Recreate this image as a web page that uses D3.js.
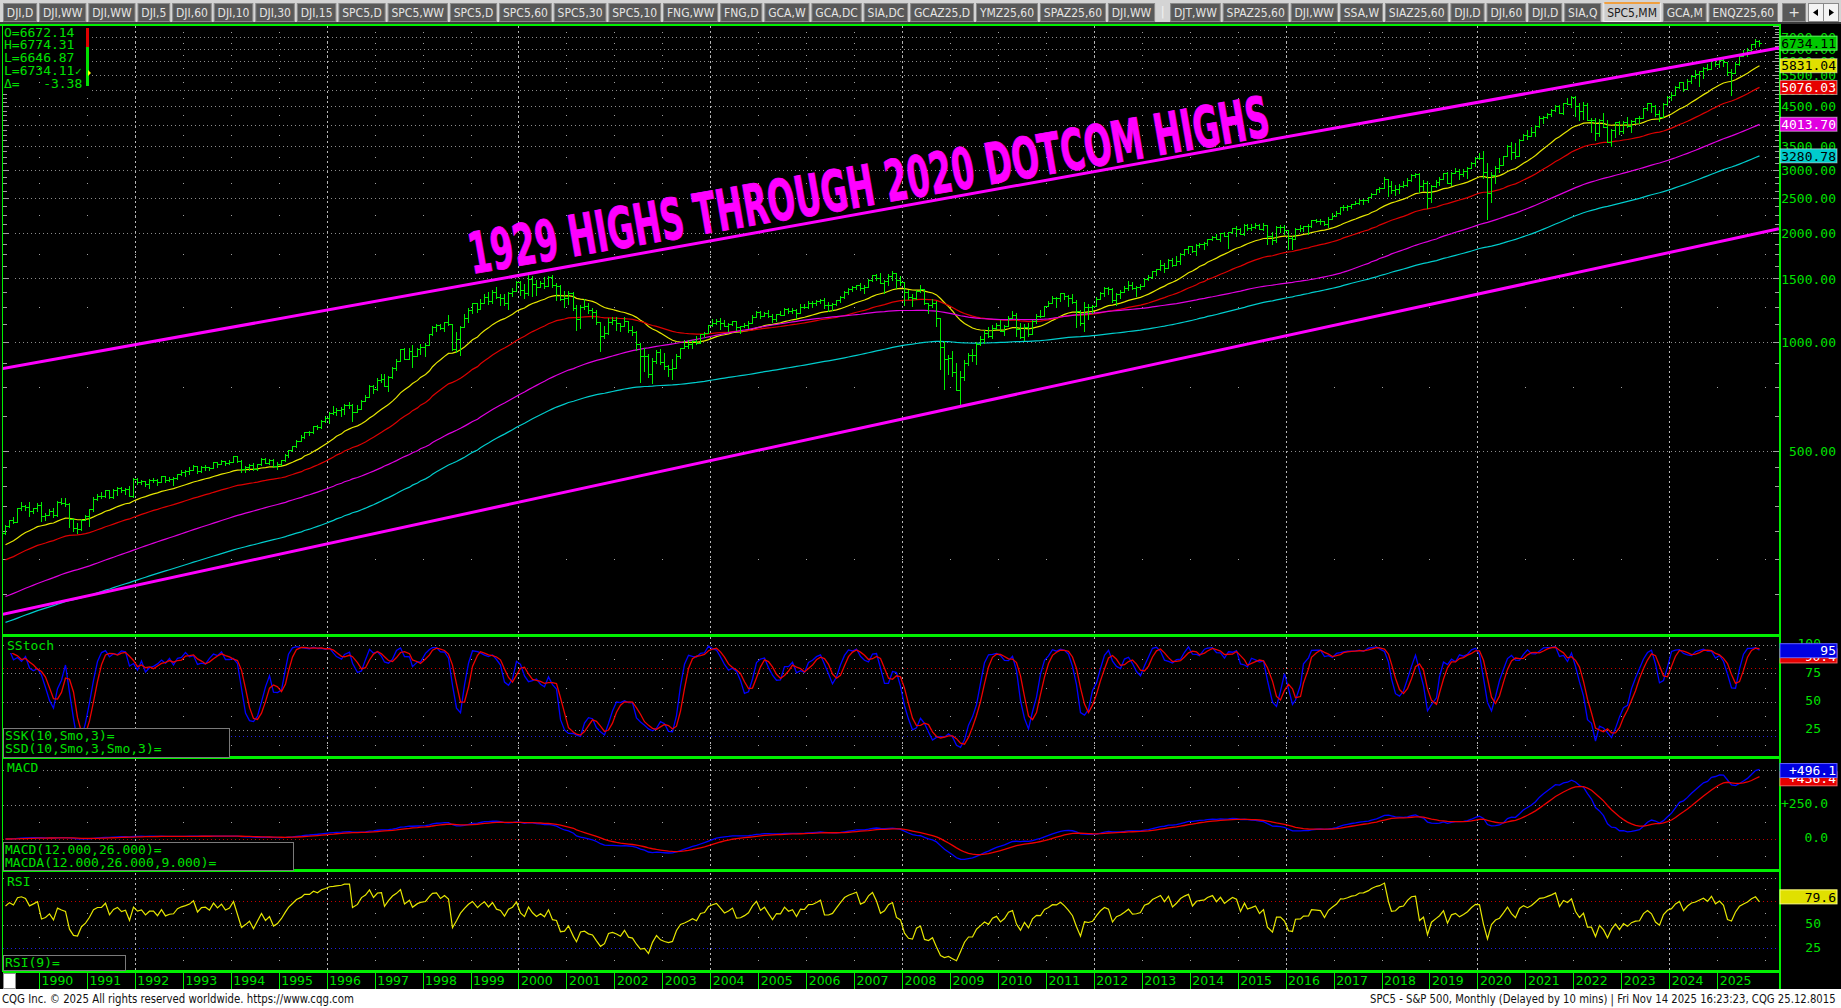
<!DOCTYPE html>
<html><head><meta charset="utf-8">
<script src="https://cdn.jsdelivr.net/npm/d3@7"></script>
<style>
html,body{margin:0;padding:0;background:#000;overflow:hidden}
svg{display:block}
text{white-space:pre}
</style></head><body>
<svg id="c" width="1841" height="1008"></svg>
<script>
// ---------------- DATA (S&P 500 monthly, Apr 1989 .. Nov 2025) ----------------
const firstMonth = "1989-04";
const opens = [
295,310,321,318,346,351,349,340,346,
353,329,332,340,331,361,358,356,323,306,304,322,
330,344,367,375,375,390,371,388,395,388,392,375,
417,409,413,404,415,415,408,424,414,418,419,431,
436,439,443,452,440,450,451,448,464,459,468,462,
466,482,467,446,451,457,444,458,475,463,472,454,
459,470,487,501,515,533,545,562,562,584,582,605,
616,636,640,646,654,669,671,640,652,687,705,757,
741,786,791,757,801,848,885,954,899,947,915,955,
970,980,1049,1102,1112,1091,1134,1121,957,1017,1099,1164,
1229,1280,1238,1286,1335,1302,1373,1329,1320,1283,1363,1389,
1469,1394,1366,1499,1452,1421,1455,1431,1518,1437,1429,1315,
1320,1366,1240,1160,1249,1256,1224,1211,1134,1041,1060,1139,
1148,1130,1107,1147,1077,1067,990,912,916,815,886,936,
880,856,841,848,917,964,975,990,1008,996,1051,1058,
1112,1131,1145,1126,1107,1121,1141,1102,1104,1115,1130,1174,
1212,1181,1204,1181,1157,1192,1191,1234,1220,1229,1207,1249,
1248,1280,1281,1295,1311,1270,1270,1277,1304,1336,1378,1401,
1418,1438,1407,1421,1482,1531,1503,1455,1474,1527,1549,1481,
1468,1379,1331,1323,1386,1400,1280,1267,1283,1166,969,896,
903,826,735,798,873,919,919,987,1021,1057,1036,1096,
1115,1074,1104,1169,1187,1089,1031,1102,1049,1141,1183,1181,
1258,1286,1327,1326,1364,1345,1321,1292,1219,1131,1253,1247,
1258,1312,1366,1408,1398,1310,1362,1379,1407,1441,1412,1416,
1426,1498,1515,1569,1598,1631,1606,1686,1633,1682,1757,1806,
1848,1783,1859,1872,1884,1924,1960,1931,2003,1972,2018,2068,
2059,1995,2105,2068,2086,2107,2063,2104,1972,1920,2079,2080,
2044,1940,1932,2060,2065,2097,2099,2174,2171,2168,2126,2199,
2239,2279,2364,2363,2384,2412,2423,2470,2472,2519,2575,2648,
2674,2824,2714,2641,2648,2705,2718,2816,2902,2914,2712,2760,
2507,2704,2784,2834,2946,2752,2942,2980,2926,2977,3038,3141,
3231,3226,2954,2585,2912,3044,3100,3271,3500,3363,3270,3622,
3756,3714,3811,3973,4181,4204,4298,4395,4523,4308,4605,4567,
4766,4516,4374,4530,4132,4132,3785,4130,3955,3586,3872,4080,
3840,4077,3970,4109,4169,4180,4450,4589,4508,4288,4194,4568,
4770,4846,5096,5254,5036,5278,5460,5522,5648,5762,5705,6032,
5882,6041,5955,5612,5569,5912,6205,6339,6460,6688,6840];
const highs = [
311,322,328,346,360,354,360,347,359,
361,336,345,347,362,369,370,357,325,315,323,331,
344,371,378,385,390,390,391,397,396,395,398,419,
421,415,413,417,419,416,425,425,422,422,432,441,
442,450,456,452,453,455,451,464,464,470,469,471,
483,482,471,453,458,462,459,477,476,474,474,466,
472,489,503,515,534,551,564,565,586,589,608,622,
638,664,656,660,673,680,673,668,690,714,758,762,
794,817,815,805,851,898,957,961,960,983,960,986,
992,1051,1106,1124,1122,1139,1190,1121,1066,1104,1193,1244,
1280,1284,1317,1362,1376,1390,1420,1357,1361,1373,1412,1473,
1478,1445,1553,1528,1481,1475,1518,1525,1530,1454,1438,1389,
1383,1376,1268,1269,1316,1286,1239,1226,1134,1111,1163,1173,
1176,1131,1173,1147,1107,1070,994,965,924,901,952,954,
935,864,895,924,965,1015,1016,1011,1040,1054,1063,1112,
1155,1159,1163,1150,1128,1146,1141,1109,1131,1142,1188,1217,
1217,1212,1229,1192,1199,1219,1246,1245,1243,1233,1271,1276,
1295,1297,1310,1318,1326,1290,1281,1307,1340,1389,1407,1431,
1441,1461,1438,1498,1535,1541,1556,1488,1539,1576,1545,1524,
1471,1396,1359,1396,1440,1404,1285,1313,1303,1167,1007,918,
944,875,832,889,930,956,997,1039,1081,1102,1113,1130,
1151,1113,1181,1220,1206,1132,1120,1130,1150,1196,1227,1262,
1303,1344,1333,1367,1371,1346,1356,1307,1230,1293,1277,1270,
1333,1378,1419,1422,1415,1364,1392,1427,1475,1466,1434,1448,
1504,1530,1570,1598,1687,1654,1698,1709,1730,1765,1814,1849,
1851,1868,1884,1897,1925,1968,1991,2005,2019,2019,2075,2094,
2072,2119,2117,2126,2135,2130,2132,2113,2021,2094,2116,2104,
2044,1962,2073,2111,2103,2120,2178,2194,2188,2170,2214,2278,
2301,2371,2401,2398,2418,2454,2484,2491,2520,2582,2658,2695,
2873,2835,2801,2717,2742,2791,2848,2917,2941,2940,2815,2800,
2716,2813,2860,2949,2954,2965,3028,3014,3022,3050,3157,3248,
3337,3394,3136,2955,3068,3233,3280,3514,3588,3550,3646,3760,
3870,3950,3982,4219,4238,4302,4430,4537,4546,4608,4743,4809,
4818,4595,4637,4594,4169,4178,4140,4325,4120,3905,4080,4101,
4095,4195,4111,4170,4232,4458,4608,4584,4541,4393,4587,4793,
4932,5112,5265,5264,5342,5505,5669,5651,5768,5878,6045,6100,
6129,6147,5986,5695,5969,6216,6427,6509,6699,6920,6870];
const lows = [
294,307,314,317,343,342,329,335,340,
320,322,331,327,330,355,351,307,300,295,301,322,
309,340,364,370,371,369,370,377,383,380,374,371,
405,405,400,394,410,401,408,410,413,402,417,428,
426,431,441,433,436,442,442,447,450,458,455,460,
465,464,436,435,442,442,443,457,461,460,449,445,
457,469,481,500,511,530,543,553,560,573,579,601,
597,633,627,624,632,658,605,639,650,685,703,723,
737,773,756,733,793,836,884,897,896,855,912,925,
912,980,1046,1076,1084,1074,1118,950,939,923,1098,1137,
1205,1212,1233,1282,1276,1281,1328,1269,1263,1233,1343,1387,
1350,1325,1346,1339,1348,1418,1413,1429,1419,1305,1311,1254,
1274,1228,1081,1091,1232,1203,1165,1124,945,1026,1054,1124,
1081,1074,1106,1063,1048,952,776,833,800,768,872,870,
840,806,789,847,902,963,962,960,990,995,1031,1061,
1105,1124,1087,1107,1076,1113,1078,1060,1099,1090,1127,1173,
1163,1180,1176,1137,1146,1188,1191,1201,1205,1169,1201,1246,
1245,1253,1268,1280,1245,1219,1224,1265,1290,1327,1360,1385,
1403,1396,1364,1416,1476,1484,1454,1370,1439,1489,1407,1436,
1270,1316,1256,1312,1373,1272,1200,1248,1106,840,741,815,
805,734,667,783,866,888,869,979,992,1030,1029,1086,
1071,1045,1105,1170,1040,1029,1011,1040,1049,1131,1174,1187,
1257,1289,1249,1302,1312,1258,1283,1101,1114,1075,1158,1203,
1258,1312,1341,1358,1292,1267,1325,1378,1397,1403,1343,1398,
1426,1485,1501,1536,1581,1560,1605,1627,1633,1646,1746,1767,
1771,1737,1834,1815,1859,1915,1930,1905,1964,1821,2001,1972,
1988,1980,2039,2048,2067,2056,2044,1867,1872,1893,2019,1993,
1812,1810,1937,2034,2026,1992,2088,2148,2120,2115,2084,2187,
2245,2267,2322,2329,2353,2405,2407,2417,2446,2520,2566,2605,
2682,2533,2586,2553,2594,2691,2698,2802,2864,2604,2631,2347,
2444,2681,2722,2848,2750,2729,2952,2822,2892,2856,3050,3070,
3214,2855,2192,2447,2767,2966,3101,3284,3210,3234,3279,3633,
3663,3725,3723,3956,4056,4164,4233,4368,4306,4279,4560,4495,
4223,4115,4157,4125,3811,3637,3721,3954,3584,3492,3699,3764,
3794,3943,3809,4049,4048,4167,4385,4335,4238,4104,4197,4546,
4682,4845,5056,4954,5011,5234,5390,5120,5403,5674,5696,5832,
5773,5837,5505,4835,5578,5861,6201,6212,6360,6551,6631];
const closes = [
310,321,318,346,351,349,340,346,353,
329,332,340,331,361,358,356,323,306,304,322,330,
344,367,375,375,390,371,388,395,388,392,375,417,
409,413,404,415,415,408,424,414,418,419,431,436,
439,443,452,440,450,451,448,464,459,468,462,466,
482,467,446,451,457,444,458,475,463,472,454,459,
470,487,501,515,533,545,562,562,584,582,605,616,
636,640,646,654,669,671,640,652,687,705,757,741,
786,791,757,801,848,885,954,899,947,915,955,970,
980,1049,1102,1112,1091,1134,1121,957,1017,1099,1164,1229,
1280,1238,1286,1335,1302,1373,1329,1320,1283,1363,1389,1469,
1394,1366,1499,1452,1421,1455,1431,1518,1437,1429,1315,1320,
1366,1240,1160,1249,1256,1224,1211,1134,1041,1060,1139,1148,
1130,1107,1147,1077,1067,990,912,916,815,886,936,880,
856,841,848,917,964,975,990,1008,996,1051,1058,1112,
1131,1145,1126,1107,1121,1141,1102,1104,1115,1130,1174,1212,
1181,1204,1181,1157,1192,1191,1234,1220,1229,1207,1249,1248,
1280,1281,1295,1311,1270,1270,1277,1304,1336,1378,1401,1418,
1438,1407,1421,1482,1531,1503,1455,1474,1527,1549,1481,1468,
1379,1331,1323,1386,1400,1280,1267,1283,1166,969,896,903,
826,735,798,873,919,919,987,1021,1057,1036,1096,1115,
1074,1104,1169,1187,1089,1031,1102,1049,1141,1183,1181,1258,
1286,1327,1326,1364,1345,1321,1292,1219,1131,1253,1247,1258,
1312,1366,1408,1398,1310,1362,1379,1407,1441,1412,1416,1426,
1498,1515,1569,1598,1631,1606,1686,1633,1682,1757,1806,1848,
1783,1859,1872,1884,1924,1960,1931,2003,1972,2018,2068,2059,
1995,2105,2068,2086,2107,2063,2104,1972,1920,2079,2080,2044,
1940,1932,2060,2065,2097,2099,2174,2171,2168,2126,2199,2239,
2279,2364,2363,2384,2412,2423,2470,2472,2519,2575,2648,2674,
2824,2714,2641,2648,2705,2718,2816,2902,2914,2712,2760,2507,
2704,2784,2834,2946,2752,2942,2980,2926,2977,3038,3141,3231,
3226,2954,2585,2912,3044,3100,3271,3500,3363,3270,3622,3756,
3714,3811,3973,4181,4204,4298,4395,4523,4308,4605,4567,4766,
4516,4374,4530,4132,4132,3785,4130,3955,3586,3872,4080,3840,
4077,3970,4109,4169,4180,4450,4589,4508,4288,4194,4568,4770,
4846,5096,5254,5036,5278,5460,5522,5648,5762,5705,6032,5882,
6041,5955,5612,5569,5912,6205,6339,6460,6688,6840,6734];

// moving averages: type, value at first bar and last label value
const maTypes = ["ema","ema","sma","ema"];
const maStart = [274, 249, 197, 167];
const maLast  = [5831.04, 5076.03, 4013.70, 3280.78];
const lastPrice = 6734.11;
const rsiStart = 70;
// channel lines: [date, value] anchors
const upperChannel = [["1989-04-01", 844], ["2026-04-15", 6530]];
const lowerChannel = [["1989-04-01", 176], ["2026-04-15", 2060]];
const titleText = "1929 HIGHS THROUGH 2020 DOTCOM HIGHS";
const headerLines = ["O=6672.14","H=6774.31","L=6646.87","L=6734.11","Δ=   -3.38"];
const priceLabels = [500,1000,1500,2000,2500,3000,3500,4000,4500,5000,5500,6000,6500,7000];
const stochLabels = [25,50,75,100];
const macdLabels = [0,250,500];
const rsiLabels = [25,50,75];
const stochLast = [95, 90.4];        // SSK, SSD
const macdLast = [496.1, 436.4];     // MACD, MACDA
const rsiLast = 79.6;
const years = d3.range(1990, 2026);
const tabs = ["DJI,D","DJI,WW","DJI,WW","DJI,5","DJI,60","DJI,10","DJI,30","DJI,15","SPC5,D","SPC5,WW","SPC5,D","SPC5,60","SPC5,30","SPC5,10","FNG,WW","FNG,D","GCA,W","GCA,DC","SIA,DC","GCAZ25,D","YMZ25,60","SPAZ25,60","DJI,WW","|","DJT,WW","SPAZ25,60","DJI,WW","SSA,W","SIAZ25,60","DJI,D","DJI,60","DJI,D","SIA,Q","SPC5,MM","GCA,M","ENQZ25,60"];
const activeTab = "SPC5,MM";
const footerLeft = "CQG Inc. © 2025 All rights reserved worldwide. https://www.cqg.com";
const footerRight = "SPC5 - S&P 500, Monthly (Delayed by 10 mins) | Fri Nov 14 2025 16:23:23, CQG 25.12.8015";

// ---------------- STYLE ----------------
const MONO = "'DejaVu Sans Mono','Liberation Mono',monospace";
const SANS = "'DejaVu Sans',sans-serif";
const COND = "'DejaVu Sans Condensed','Liberation Sans Narrow','DejaVu Sans',sans-serif";
const TXT = "#00e000", SEPC = "#00f000", BARC = "#00ee00";
const maColors = ["#e6e600","#dd0000","#e000e0","#00cccc"];
const maBox = [["#e0e000","#000"],["#e60000","#fff"],["#e000e0","#fff"],["#00cccc","#000"]];
const GRID = "#8c8c8c";

// ---------------- LAYOUT ----------------
const L = 3, R = 1779;
const mainP = {t:26, b:634}, stP = {t:637, b:757}, mdP = {t:759, b:870}, rsP = {t:873, b:970};

const parseM = d3.timeParse("%Y-%m"), parseD = d3.timeParse("%Y-%m-%d");
const start = parseM(firstMonth);
const n = closes.length;
const bars = d3.range(n).map(i => ({date: d3.timeMonth.offset(start, i), o: opens[i], h: highs[i], l: lows[i], c: closes[i]}));

const x = d3.scaleTime().domain([new Date(1990,0,1), new Date(2025,0,1)]).range([39, 1717.25]);
const bx = d => Math.round(x(d3.timeDay.offset(d, 15))) + 0.5;
const yM = d3.scaleLog().domain([500, 7000]).range([450.6, 37.1]);
const yS = d3.scaleLinear().domain([0, 100]).range([758.75, 645]);
const yD = d3.scaleLinear().domain([0, 500]).range([839, 770]);
const yR = d3.scaleLinear().domain([25, 75]).range([948.4, 901.2]);

// ---------------- INDICATORS (computed from price) ----------------
function ema(vals, period, seed) { const a = 2/(period+1); let e = seed; return vals.map((v,i) => (i === 0 ? e : (e = e + a*(v - e)))); }
// simple MA; the months before the first bar are implied by the MA value read at the first bar
function smaSeeded(vals, P, seed) {
  let lo = 0.3, hi = 1.0;
  for (let it = 0; it < 60; it++) { const q = (lo+hi)/2; const f = (1 - Math.pow(q, P))/(1 - q); if (vals[0]*f/P > seed) hi = q; else lo = q; }
  const q = (lo+hi)/2;
  return vals.map((v,i) => { let s = 0; for (let k = i-P+1; k <= i; k++) s += k >= 0 ? vals[k] : vals[0]*Math.pow(q, -k); return s/P; });
}
function fitEma(seed, target) { let best = 2, bd = Infinity; for (let p = 2; p <= 400; p += 0.5) { const s = ema(closes, p, seed); const dd = Math.abs(s[n-1] - target); if (dd < bd) { bd = dd; best = p; } } return best; }
function fitSma(target) { let best = 2, bd = Infinity; for (let p = 2; p <= n; p++) { const dd = Math.abs(d3.mean(closes.slice(n-p)) - target); if (dd < bd) { bd = dd; best = p; } } return best; }
const maSeries = maStart.map((s,k) => maTypes[k] === "sma" ? smaSeeded(closes, fitSma(maLast[k]), s) : ema(closes, fitEma(s, maLast[k]), s));

const rawK = closes.map((c,i) => { const a = Math.max(0, i-9); const hh = d3.max(highs.slice(a, i+1)), ll = d3.min(lows.slice(a, i+1)); return hh === ll ? 50 : (c - ll)/(hh - ll)*100; });
const sma = (arr, p) => arr.map((v,i) => d3.mean(arr.slice(Math.max(0, i-p+1), i+1)));
const ssk = sma(rawK, 3), ssd = sma(ssk, 3);

const e12 = ema(closes, 12, closes[0]), e26 = ema(closes, 26, closes[0]);
const macd = e12.map((v,i) => v - e26[i]);
const macdA = ema(macd, 9, macd[0]);

const rsi = (() => {
  const m = d3.mean(d3.range(1, 10), i => Math.abs(closes[i]-closes[i-1]));
  let ag = m*rsiStart/100, al = m*(1-rsiStart/100); const out = [rsiStart];
  for (let i = 1; i < n; i++) { const ch = closes[i]-closes[i-1]; ag = (ag*8 + Math.max(ch,0))/9; al = (al*8 + Math.max(-ch,0))/9; out.push(al === 0 ? 100 : 100 - 100/(1+ag/al)); }
  return out; })();

// ---------------- DRAW ----------------
const svg = d3.select("#c");
svg.append("rect").attr("width",1841).attr("height",1008).attr("fill","#000");
const defs = svg.append("defs");
[["cm",mainP],["cs",stP],["cd",mdP],["cr",rsP]].forEach(([id,p]) => defs.append("clipPath").attr("id",id).append("rect").attr("x",L).attr("y",p.t).attr("width",R-L).attr("height",p.b-p.t));

// grid
const grid = svg.append("g").attr("shape-rendering","crispEdges");
function hGrid(vals, ys, color, x0) { grid.selectAll(null).data(vals).enter().append("line")
  .attr("x1", v => typeof x0 === "function" ? x0(ys(v)) : x0).attr("x2",R)
  .attr("y1",v=>Math.round(ys(v))+0.5).attr("y2",v=>Math.round(ys(v))+0.5).attr("stroke",color).attr("stroke-dasharray","1,3"); }
hGrid(priceLabels, yM, GRID, yy => yy < 92 ? 92 : 15);
hGrid(stochLabels, yS, GRID, L); hGrid([80], yS, "#c00000", L); hGrid([20], yS, "#2020e0", L);
hGrid([250,500], yD, GRID, L); hGrid([0], yD, "#c00000", L);
hGrid([100,50], yR, GRID, L); hGrid([75], yR, "#c00000", L); hGrid([25], yR, "#2020e0", L);
// vertical dashed every 4 years
[mainP, stP, mdP, rsP].forEach(p => {
  grid.selectAll(null).data(years.filter(y => y % 4 === 0)).enter().append("line")
    .attr("x1", y => Math.round(x(new Date(y,0,1)))+0.5).attr("x2", y => Math.round(x(new Date(y,0,1)))+0.5)
    .attr("y1", p.t).attr("y2", p.b).attr("stroke","#b8b8b8").attr("stroke-dasharray","2,3");
});
// isolated dots at year columns and mid levels
const midLevels = [[d3.range(250, 7500, 500), yM], [[12.5,37.5,62.5,87.5], yS], [[-125,125,375], yD], [[12.5,37.5,62.5,87.5], yR]];
const dotG = grid.append("g").attr("fill","#a0a0a0");
years.concat([2026]).forEach(yr => { const xx = Math.round(x(new Date(yr,0,1))); if (xx > R-2) return;
  midLevels.forEach(([vals, ys]) => vals.forEach(v => dotG.append("rect").attr("x",xx).attr("y",Math.round(ys(v))).attr("width",1).attr("height",1))); });

// price axis minor ticks
const tickG = svg.append("g").attr("stroke","#a0a0a0").attr("shape-rendering","crispEdges");
const minorTicks = d3.range(150, 500, 50).concat(d3.range(500, 7600, 125));
minorTicks.forEach(v => { const yy = Math.round(yM(v))+0.5; if (yy < mainP.t || yy > mainP.b) return; const big = v % 500 === 0;
  tickG.append("line").attr("x1", R-(big?6:4)).attr("x2", R).attr("y1",yy).attr("y2",yy);
  if (yy > 92) tickG.append("line").attr("x1", L).attr("x2", L+(big?6:4)).attr("y1",yy).attr("y2",yy); });

// moving averages
const gMain = svg.append("g").attr("clip-path","url(#cm)");
maSeries.forEach((s,k) => gMain.append("path").datum(s).attr("fill","none").attr("stroke",maColors[k]).attr("stroke-width",1.2)
  .attr("d", d3.line().x((v,i)=>bx(bars[i].date)).y(v=>yM(v))));

// OHLC bars
const bp = d3.path();
bars.forEach(d => { const cx = bx(d.date); const yo = Math.round(yM(d.o))+0.5, yc = Math.round(yM(d.c))+0.5;
  bp.moveTo(cx, Math.round(yM(d.h))); bp.lineTo(cx, Math.round(yM(d.l))+1);
  bp.moveTo(cx-2.5, yo); bp.lineTo(cx, yo); bp.moveTo(cx, yc); bp.lineTo(cx+2.5, yc); });
gMain.append("path").attr("d", bp.toString()).attr("stroke", BARC).attr("stroke-width",1).attr("fill","none").attr("shape-rendering","crispEdges");

// channel lines
const chLine = d3.line().x(d => x(parseD(d[0]))).y(d => yM(d[1]));
[upperChannel, lowerChannel].forEach(c => gMain.append("path").attr("d", chLine(c)).attr("stroke","#ff00ff").attr("stroke-width",3).attr("fill","none"));

// title
gMain.append("text").attr("transform","translate(472,274) rotate(-9.8)").text(titleText)
  .attr("font-family", COND).attr("font-weight","bold").attr("font-size",57).attr("fill","#ff00ff")
  .attr("stroke","#ff00ff").attr("stroke-width",0.8)
  .attr("textLength",812).attr("lengthAdjust","spacingAndGlyphs");

// stoch
const gS = svg.append("g").attr("clip-path","url(#cs)");
const lnS = d3.line().x((v,i)=>bx(bars[i].date)).y(v=>yS(v));
gS.append("path").datum(ssk).attr("d",lnS).attr("stroke","#0000ff").attr("stroke-width",1.3).attr("fill","none");
gS.append("path").datum(ssd).attr("d",lnS).attr("stroke","#ee0000").attr("stroke-width",1.3).attr("fill","none");
// macd
const gD = svg.append("g").attr("clip-path","url(#cd)");
const lnD = d3.line().x((v,i)=>bx(bars[i].date)).y(v=>yD(v));
gD.append("path").datum(macd).attr("d",lnD).attr("stroke","#0000ff").attr("stroke-width",1.3).attr("fill","none");
gD.append("path").datum(macdA).attr("d",lnD).attr("stroke","#ee0000").attr("stroke-width",1.3).attr("fill","none");
// rsi
const gR = svg.append("g").attr("clip-path","url(#cr)");
gR.append("path").datum(rsi).attr("d", d3.line().x((v,i)=>bx(bars[i].date)).y(v=>yR(v))).attr("stroke","#e6e600").attr("stroke-width",1.2).attr("fill","none");

// panel borders / separators
const brd = svg.append("g").attr("shape-rendering","crispEdges");
brd.append("rect").attr("x",0).attr("y",24).attr("width",R+1).attr("height",2).attr("fill",SEPC);
[634, 756, 869, 970].forEach(yy => brd.append("rect").attr("x",L).attr("y",yy).attr("width",R-L).attr("height",3).attr("fill",SEPC));
brd.append("rect").attr("x",2).attr("y",24).attr("width",1).attr("height",948).attr("fill",SEPC);
brd.append("rect").attr("x",R).attr("y",24).attr("width",1.5).attr("height",965).attr("fill",SEPC);

// header OHLC
const hdr = svg.append("g").attr("font-family",MONO).attr("font-size",13).attr("fill",TXT);
headerLines.forEach((t,i) => hdr.append("text").attr("x",4).attr("y",36.5+i*12.9).text(t));
hdr.append("text").attr("x",75).attr("y",75).attr("font-size",11).text("✓");
svg.append("rect").attr("x",86).attr("y",28).attr("width",3).attr("height",19).attr("fill","#e00000");
svg.append("rect").attr("x",86).attr("y",47).attr("width",3).attr("height",39).attr("fill","#00e000");
svg.append("path").attr("d","M88,70 L91,73 L88,76 Z").attr("fill","#ffff00");

// right price axis
const gA = svg.append("g").attr("transform",`translate(${R},0)`).call(d3.axisRight(yM).tickValues(priceLabels).tickFormat(d3.format(".2f")).tickSize(0));
gA.select(".domain").remove();
gA.selectAll("text").attr("x",57).attr("dy","0.35em").attr("text-anchor","end").attr("fill",TXT).attr("font-family",MONO).attr("font-size",13);
function valueBox(yy, txt, fill, color, border) {
  svg.append("rect").attr("x",R+1).attr("y",yy-7).attr("width",57).attr("height",14).attr("fill",fill).attr("stroke",border||fill).attr("stroke-width",1);
  svg.append("text").attr("x",1836).attr("y",yy).attr("dy","0.36em").attr("text-anchor","end").attr("font-family",MONO).attr("font-size",13).attr("fill",color).text(txt);
}
valueBox(yM(lastPrice), d3.format(".2f")(lastPrice), "#00c800", "#000", "#60ff60");
maLast.forEach((v,k) => valueBox(yM(v), d3.format(".2f")(v), maBox[k][0], maBox[k][1], "#ffffff80"));

// sub-panel right labels
function subAxis(ys, vals, fmt, endX) {
  const g = svg.append("g").attr("transform",`translate(${R},0)`).call(d3.axisRight(ys).tickValues(vals).tickFormat(fmt).tickSize(0));
  g.select(".domain").remove();
  g.selectAll("text").attr("x",endX-R).attr("dy","0.2em").attr("text-anchor","end").attr("fill",TXT).attr("font-family",MONO).attr("font-size",13);
}
subAxis(yS, stochLabels, d3.format("d"), 1821);
subAxis(yD, macdLabels, v => v === 0 ? "0.0" : d3.format("+.1f")(v), 1828);
subAxis(yR, rsiLabels, d3.format("d"), 1821);
valueBox(yS(stochLast[1]), d3.format(".1f")(stochLast[1]), "#e60000", "#fff", "#ff6060");
valueBox(yS(stochLast[0]), d3.format("d")(stochLast[0]), "#0000e0", "#fff", "#6060ff");
valueBox(yD(macdLast[1]), d3.format("+.1f")(macdLast[1]), "#e60000", "#fff", "#ff6060");
valueBox(yD(macdLast[0]), d3.format("+.1f")(macdLast[0]), "#0000e0", "#fff", "#6060ff");
valueBox(yR(rsiLast), d3.format(".1f")(rsiLast), "#e0e000", "#000", "#ffff80");

// sub-panel titles and parameter boxes
const lab = svg.append("g").attr("font-family",MONO).attr("font-size",13).attr("fill",TXT);
[["SStoch",650],["MACD",772],["RSI",886]].forEach(([t,yy]) => {
  svg.append("rect").attr("x",4).attr("y",yy-10).attr("width",t.length*7.9+6).attr("height",13).attr("fill","#000");
  lab.append("text").attr("x",7).attr("y",yy).text(t); });
function paramBox(x0, y0, w, h, lines) {
  svg.append("rect").attr("x",x0+0.5).attr("y",y0+0.5).attr("width",w).attr("height",h).attr("fill","#000").attr("stroke","#7a7a7a");
  lines.forEach((t,i) => lab.append("text").attr("x",x0+2).attr("y",y0+12+i*13.3).text(t));
}
paramBox(3, 728, 226, 29, ["SSK(10,Smo,3)=","SSD(10,Smo,3,Smo,3)="]);
paramBox(3, 842, 290, 28, ["MACD(12.000,26.000)=","MACDA(12.000,26.000,9.000)="]);
paramBox(3, 955, 122, 15, ["RSI(9)="]);
lab.raise();

// year axis
const gX = svg.append("g").attr("transform","translate(0,972)").call(d3.axisBottom(x).tickValues(years.map(y=>new Date(y,0,1))).tickFormat(d3.timeFormat("%Y")).tickSize(17));
gX.select(".domain").remove();
gX.selectAll(".tick line").attr("stroke",SEPC).attr("shape-rendering","crispEdges");
gX.selectAll(".tick text").attr("text-anchor","start").attr("x",2).attr("y",13).attr("dy",0).attr("fill",TXT).attr("font-family",SANS).attr("font-size",12.5);
svg.append("rect").attr("x",3.5).attr("y",973.5).attr("width",12).attr("height",15).attr("fill","#fff").attr("stroke","#909090");

// footer (text squeezed horizontally to the reference widths)
svg.append("rect").attr("x",0).attr("y",989).attr("width",1841).attr("height",19).attr("fill","#fff");
function footText(txt, x0, width) {
  const g = svg.append("g");
  const t = g.append("text").attr("x",0).attr("y",0).attr("font-family",COND).attr("font-size",12).attr("fill","#111").text(txt);
  const w = t.node().getComputedTextLength();
  g.attr("transform", `translate(${x0},1003) scale(${Math.min(1, width/w)},1)`);
}
footText(footerLeft, 2, 352);
footText(footerRight, 1370, 466);

// tab strip
const tg = svg.append("g");
tg.append("rect").attr("x",0).attr("y",0).attr("width",1841).attr("height",24).attr("fill","#d4d4d4");
tg.append("rect").attr("x",0).attr("y",22).attr("width",1841).attr("height",2).attr("fill","#3a3a3a");
const meas = tg.append("text").attr("font-family",COND).attr("font-size",12);
const tw = tabs.map(t => { meas.text(t); return meas.node().getComputedTextLength(); });
meas.remove();
const gap = 2, sepW = 11;
const realIdx = tabs.map((t,i)=>i).filter(i => tabs[i] !== "|");
const pad = (1778 - 3 - d3.sum(realIdx, i => tw[i]) - gap*(tabs.length-1) - sepW) / (2*realIdx.length);
let cx = 3;
tabs.forEach((t,i) => {
  if (t === "|") { tg.append("text").attr("x",cx+sepW/2).attr("y",16).attr("text-anchor","middle").attr("font-family",SANS).attr("font-size",13).attr("fill","#f0f0f0").text("|"); cx += sepW + gap; return; }
  const w = tw[i] + 2*pad, act = t === activeTab;
  tg.append("rect").attr("x",cx+0.5).attr("y",3.5).attr("width",w-1).attr("height",18).attr("fill", act ? "#cdcdcd" : "#595959").attr("stroke", act ? "#f0f0f0" : "#8a8a8a");
  if (act) tg.append("rect").attr("x",cx+1).attr("y",2).attr("width",w-2).attr("height",2).attr("fill","#f0a040");
  tg.append("text").attr("x",cx+pad).attr("y",16.5).attr("font-family",COND).attr("font-size",12).attr("fill", act ? "#1a1a1a" : "#e4e4e4").text(t);
  cx += w + gap;
});
tg.append("rect").attr("x",1782.5).attr("y",3.5).attr("width",23).attr("height",18).attr("fill","#595959").attr("stroke","#8a8a8a");
tg.append("text").attr("x",1794).attr("y",17).attr("text-anchor","middle").attr("font-family",SANS).attr("font-size",14).attr("fill","#e4e4e4").text("+");
tg.append("rect").attr("x",1808.5).attr("y",3.5).attr("width",30).attr("height",18).attr("fill","#f4f4f4").attr("stroke","#8a8a8a");
tg.append("line").attr("x1",1823.5).attr("x2",1823.5).attr("y1",4).attr("y2",21).attr("stroke","#8a8a8a");
tg.append("path").attr("d","M1818,9 L1813,12.5 L1818,16 Z M1829,9 L1834,12.5 L1829,16 Z").attr("fill","#000");
</script>
</body></html>
